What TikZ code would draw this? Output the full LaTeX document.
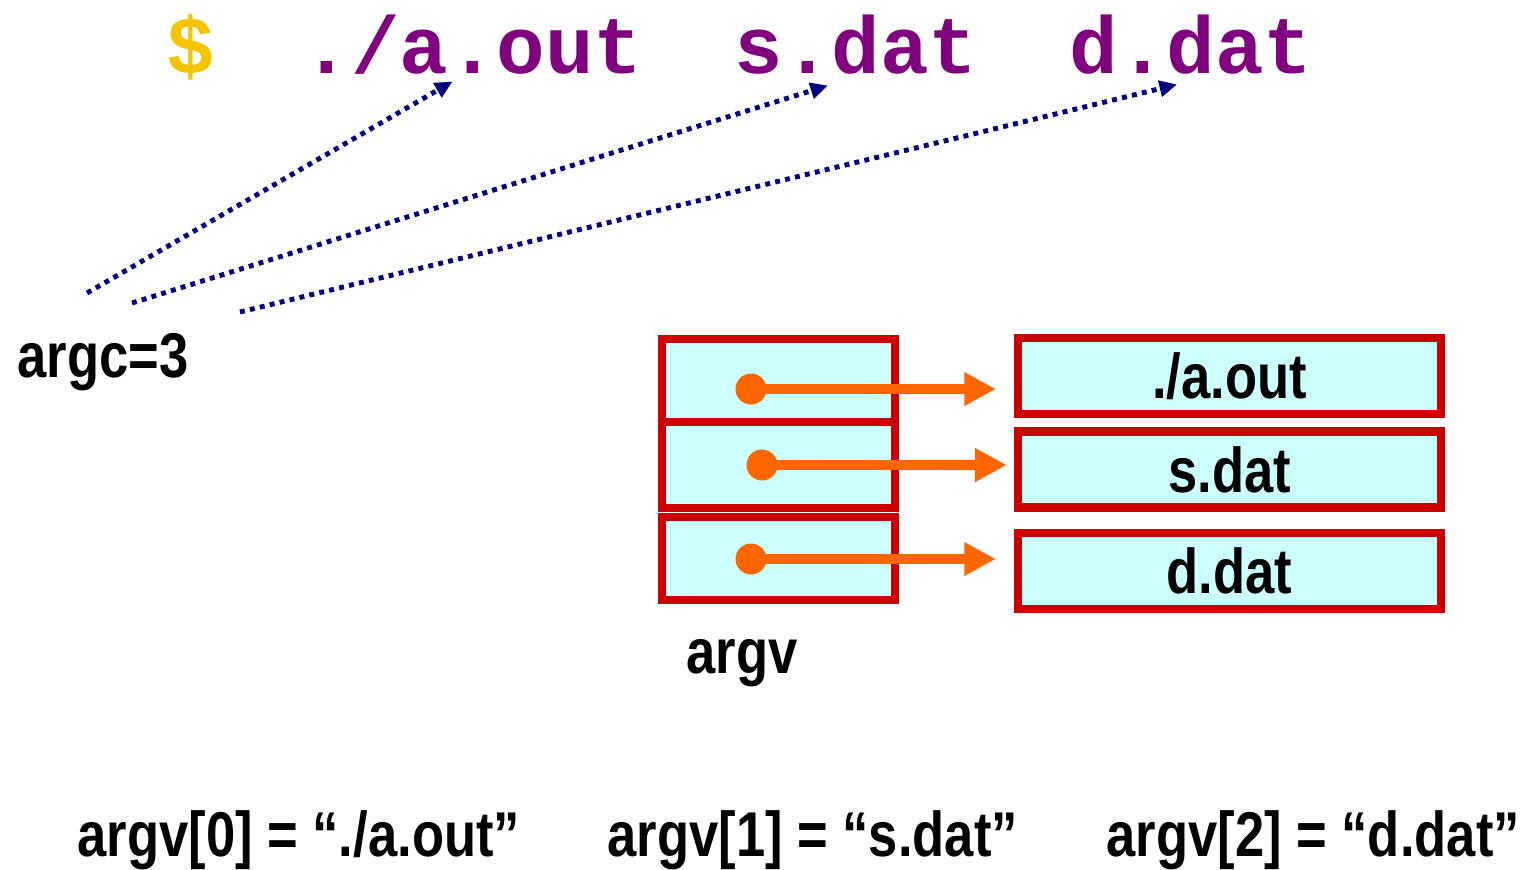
\documentclass[tikz,border=0pt]{standalone}
\usepackage{fontspec}
\usepackage{xcolor}
\usetikzlibrary{arrows.meta}
\setmainfont{Liberation Sans}
\newfontfamily\condfont[FakeStretch=0.83]{Liberation Sans}
\newfontfamily\shellfont{Liberation Mono}
\definecolor{boxred}{RGB}{204,0,0}
\definecolor{boxfill}{RGB}{204,255,255}
\definecolor{ptrorange}{RGB}{255,102,0}
\definecolor{cmdpurple}{RGB}{128,0,128}
\definecolor{promptgold}{RGB}{245,196,0}
\definecolor{linknavy}{RGB}{0,0,128}

\begin{document}
\begin{tikzpicture}[x=0.01cm,y=-0.01cm,
    label node/.style={inner sep=0,font=\condfont\bfseries\fontsize{18}{20}\selectfont},
    cmd node/.style={inner sep=0,anchor=base west,text=cmdpurple,font=\shellfont\bfseries\fontsize{23}{25}\selectfont},
    cell node/.style={rectangle,draw=boxred,fill=boxfill,line width=2.3pt,inner sep=0,minimum width=2.33cm},
    str node/.style={cell node,label node,minimum width=4.23cm,minimum height=0.76cm},
    ptr dot/.style={circle,fill=ptrorange,inner sep=0,minimum size=0.31cm},
    ptr/.style={draw=ptrorange,line width=2.8pt,-{Triangle[length=9pt,width=9pt]}},
    link/.style={draw=linknavy,line width=1.4pt,dash pattern=on 1.4pt off 1.5pt,-{Triangle[length=5pt,width=4.5pt]}}]

    \useasboundingbox (0,0) rectangle (1524,869);

    % command line
    \node[cmd node,text=promptgold] (prompt) at (166,73) {\$};
    \node[cmd node] (aout) at (302,73) {./a.out};
    \node[cmd node] (sdat) at (734,73) {s.dat};
    \node[cmd node] (ddat) at (1069,73) {d.dat};

    \node[label node,anchor=base west] (argc) at (17,377) {argc=3};
    \coordinate (a0) at (87,293);
    \coordinate (a1) at (132,303);
    \coordinate (a2) at (240,312);

    \draw[link] (a0) -- ([shift={(-20,7)}]aout.south);
    \draw[link] (a1) -- ([shift={(-28,11)}]sdat.south);
    \draw[link] (a2) -- ([shift={(-14,10)}]ddat.south);

    % argv array and the strings
    \node[cell node,minimum height=0.83cm] (av0) at (778.5,380.5) {};
    \node[cell node,minimum height=0.86cm] (av1) at (778.5,465) {};
    \node[cell node,minimum height=0.83cm] (av2) at (778.5,558.5) {};
    \node[label node,anchor=base] (argv) at (742,673) {argv};

    \node[str node] (sv0) at (1229.5,376) {./a.out};
    \node[str node] (sv1) at (1229.5,469.5) {s.dat};
    \node[str node] (sv2) at (1229.5,571) {d.dat};

    \node[ptr dot] (p0) at (751,389) {};
    \node[ptr dot] (p1) at (762,465) {};
    \node[ptr dot] (p2) at (751,559) {};

    \draw[ptr,shorten >=5.1pt] (p0.center) -- (p0 -| sv0.west);
    \draw[ptr,shorten >=2pt] (p1.center) -- (p1 -| sv1.west);
    \draw[ptr,shorten >=5.1pt] (p2.center) -- (p2 -| sv2.west);

    \node[label node,anchor=base west] (arg0) at (77,856) {argv[0] = “./a.out”};
    \node[label node,anchor=base west] (arg1) at (607,856) {argv[1] = “s.dat”};
    \node[label node,anchor=base west] (arg2) at (1106,856) {argv[2] = “d.dat”};
\end{tikzpicture}
\end{document}
